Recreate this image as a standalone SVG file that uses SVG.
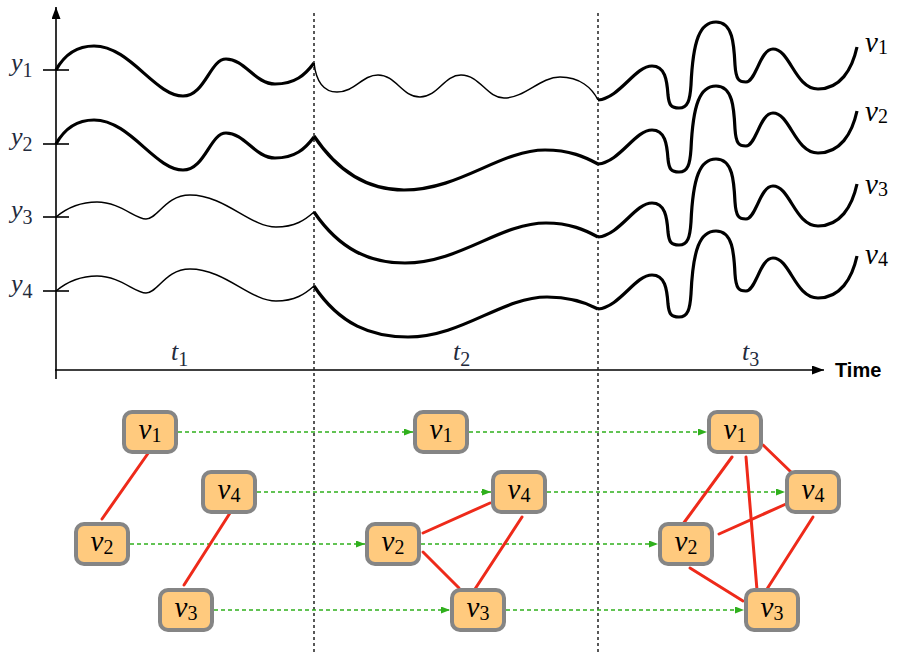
<svg xmlns="http://www.w3.org/2000/svg" xmlns:xlink="http://www.w3.org/1999/xlink" width="898" height="655" viewBox="0 0 898 655">
<style>
.ax{stroke:#000;stroke-width:1.6;fill:none}
.tick{stroke:#000;stroke-width:1.6}
.sep{stroke:#222;stroke-width:1.5;stroke-dasharray:3 3}
.thick{stroke:#000;stroke-width:3.2;fill:none;stroke-linejoin:round}
.thin{stroke:#000;stroke-width:1.5;fill:none;stroke-linejoin:round}
.lab{font-family:"Liberation Serif",serif;font-style:italic;font-size:26px;fill:#232a3c}
.vl{font-family:"Liberation Serif",serif;font-style:italic;font-size:29px;fill:#000}
.sub{font-style:normal;font-size:20px}
.time{font-family:"Liberation Sans",Arial,sans-serif;font-weight:bold;font-size:20px;fill:#000}
.box{fill:#ffca7e;stroke:#858585;stroke-width:4}
.nl{font-family:"Liberation Serif",serif;font-style:italic;font-size:29px;fill:#000;text-anchor:middle}
.edge{stroke:#ee2a1a;stroke-width:3;stroke-linecap:round}
.flow{stroke:#2fb01c;stroke-width:1.7;stroke-dasharray:4 3;fill:none}
</style>
<defs>
<marker id="axh" markerUnits="userSpaceOnUse" markerWidth="13" markerHeight="10" refX="12" refY="4.5" orient="auto"><path d="M0,0 L12,4.5 L0,9 z" fill="#000"/></marker>
<marker id="gh" markerUnits="userSpaceOnUse" markerWidth="10" markerHeight="8" refX="9" refY="3.5" orient="auto"><path d="M0,0 L9,3.5 L0,7 z" fill="#2fb01c"/></marker>
<path id="s1a" d="M56,70 C66,52 80,46 94,46 C130,46 155,96 183,96 C205,96 210,59 226,59 C245,59 255,84 275,84 C295,84 305,75 314,63"/>
<path id="s1b" d="M56,217 C68,207 80,202 97,202 C120,202 135,219 146,219 C158,219 165,195 190,195 C225,195 250,227 276,227 C295,227 305,220 314,212"/>
<path id="s3" d="M598,100 C620,98 635,66 652,66 C665,66 667,80 668,95 C669,105 671,108 679,108 C688,108 690,100 691,85 C693,40 700,22 716,22 C733,22 734,45 735,65 C736,80 739,82 746,82 C756,82 760,49 773,49 C790,49 795,89 818,89 C840,89 852,70 857,47"/>
</defs>

<g id="chart">
<line class="ax" x1="56" y1="379" x2="56" y2="7" marker-end="url(#axh)"/>
<line class="ax" x1="55" y1="370" x2="824" y2="370" marker-end="url(#axh)"/>
<line class="tick" x1="43" y1="70" x2="69" y2="70"/>
<line class="tick" x1="43" y1="144" x2="69" y2="144"/>
<line class="tick" x1="43" y1="217" x2="69" y2="217"/>
<line class="tick" x1="43" y1="291" x2="69" y2="291"/>
<line class="sep" x1="314" y1="13" x2="314" y2="655"/>
<line class="sep" x1="598" y1="13" x2="598" y2="655"/>

<use xlink:href="#s1a" class="thick"/>
<use xlink:href="#s1a" class="thick" y="74"/>
<use xlink:href="#s1b" class="thin"/>
<use xlink:href="#s1b" class="thin" y="74"/>

<path class="thin" d="M314,63 C316,80 322,92 337,92 C355,92 362,75 378,75 C396,75 402,97 420,97 C438,97 444,75 461,75 C480,75 487,98 504,98 C525,98 540,77 560,77 C580,77 592,88 598,100"/>
<path class="thick" d="M314,136 C340,175 370,190 404,190 C460,190 500,150 545,150 C570,150 585,157 598,164"/>
<path class="thick" d="M314,212 C340,250 370,263 405,263 C460,263 500,223 546,223 C570,223 585,230 598,237"/>
<path class="thick" d="M314,286 C340,325 372,337 408,337 C462,337 502,297 547,297 C570,297 585,302 598,309"/>

<use xlink:href="#s3" class="thick"/>
<use xlink:href="#s3" class="thick" y="64"/>
<use xlink:href="#s3" class="thick" y="137"/>
<use xlink:href="#s3" class="thick" y="209"/>

<text class="lab" x="11" y="71">y<tspan class="sub" dy="6">1</tspan></text>
<text class="lab" x="11" y="145">y<tspan class="sub" dy="6">2</tspan></text>
<text class="lab" x="11" y="218">y<tspan class="sub" dy="6">3</tspan></text>
<text class="lab" x="11" y="292">y<tspan class="sub" dy="6">4</tspan></text>

<text class="lab" x="171" y="360">t<tspan class="sub" dy="6">1</tspan></text>
<text class="lab" x="453" y="360">t<tspan class="sub" dy="6">2</tspan></text>
<text class="lab" x="742" y="360">t<tspan class="sub" dy="6">3</tspan></text>

<text class="vl" x="865" y="52">v<tspan class="sub" dy="2">1</tspan></text>
<text class="vl" x="865" y="121">v<tspan class="sub" dy="2">2</tspan></text>
<text class="vl" x="865" y="194">v<tspan class="sub" dy="2">3</tspan></text>
<text class="vl" x="865" y="264">v<tspan class="sub" dy="2">4</tspan></text>

<text class="time" x="835" y="377">Time</text>
</g>

<g id="connectors">
<line class="flow" x1="178" y1="432" x2="413" y2="432" marker-end="url(#gh)"/>
<line class="flow" x1="469" y1="432" x2="707" y2="432" marker-end="url(#gh)"/>
<line class="flow" x1="257" y1="492" x2="491" y2="492" marker-end="url(#gh)"/>
<line class="flow" x1="547" y1="492" x2="785" y2="492" marker-end="url(#gh)"/>
<line class="flow" x1="130" y1="544" x2="365" y2="544" marker-end="url(#gh)"/>
<line class="flow" x1="421" y1="544" x2="658" y2="544" marker-end="url(#gh)"/>
<line class="flow" x1="214" y1="610" x2="450" y2="610" marker-end="url(#gh)"/>
<line class="flow" x1="506" y1="610" x2="744" y2="610" marker-end="url(#gh)"/>

<line class="edge" x1="149" y1="452" x2="102" y2="519"/>
<line class="edge" x1="230" y1="513" x2="184" y2="585"/>

<line class="edge" x1="423" y1="533" x2="490" y2="503"/>
<line class="edge" x1="423" y1="552" x2="459" y2="588"/>
<line class="edge" x1="522" y1="517" x2="475" y2="589"/>

<line class="edge" x1="732" y1="457" x2="683" y2="524"/>
<line class="edge" x1="746" y1="457" x2="757" y2="590"/>
<line class="edge" x1="763" y1="445" x2="792" y2="473"/>
<line class="edge" x1="719" y1="534" x2="786" y2="504"/>
<line class="edge" x1="690" y1="568" x2="743" y2="601"/>
<line class="edge" x1="813" y1="517" x2="767" y2="589"/>
</g>

<g id="n1_v1"><rect class="box" x="124" y="412" width="52" height="40" rx="8"/><text class="nl" x="150" y="439">v<tspan class="sub" dy="3">1</tspan></text></g>
<g id="n1_v4"><rect class="box" x="203" y="472" width="52" height="40" rx="8"/><text class="nl" x="229" y="499">v<tspan class="sub" dy="3">4</tspan></text></g>
<g id="n1_v2"><rect class="box" x="76" y="524" width="52" height="40" rx="8"/><text class="nl" x="102" y="551">v<tspan class="sub" dy="3">2</tspan></text></g>
<g id="n1_v3"><rect class="box" x="160" y="590" width="52" height="40" rx="8"/><text class="nl" x="186" y="617">v<tspan class="sub" dy="3">3</tspan></text></g>

<g id="n2_v1"><rect class="box" x="415" y="412" width="52" height="40" rx="8"/><text class="nl" x="441" y="439">v<tspan class="sub" dy="3">1</tspan></text></g>
<g id="n2_v4"><rect class="box" x="493" y="472" width="52" height="40" rx="8"/><text class="nl" x="519" y="499">v<tspan class="sub" dy="3">4</tspan></text></g>
<g id="n2_v2"><rect class="box" x="367" y="524" width="52" height="40" rx="8"/><text class="nl" x="393" y="551">v<tspan class="sub" dy="3">2</tspan></text></g>
<g id="n2_v3"><rect class="box" x="452" y="590" width="52" height="40" rx="8"/><text class="nl" x="478" y="617">v<tspan class="sub" dy="3">3</tspan></text></g>

<g id="n3_v1"><rect class="box" x="709" y="412" width="52" height="40" rx="8"/><text class="nl" x="735" y="439">v<tspan class="sub" dy="3">1</tspan></text></g>
<g id="n3_v4"><rect class="box" x="787" y="472" width="52" height="40" rx="8"/><text class="nl" x="813" y="499">v<tspan class="sub" dy="3">4</tspan></text></g>
<g id="n3_v2"><rect class="box" x="660" y="524" width="52" height="40" rx="8"/><text class="nl" x="686" y="551">v<tspan class="sub" dy="3">2</tspan></text></g>
<g id="n3_v3"><rect class="box" x="746" y="590" width="52" height="40" rx="8"/><text class="nl" x="772" y="617">v<tspan class="sub" dy="3">3</tspan></text></g>
</svg>
